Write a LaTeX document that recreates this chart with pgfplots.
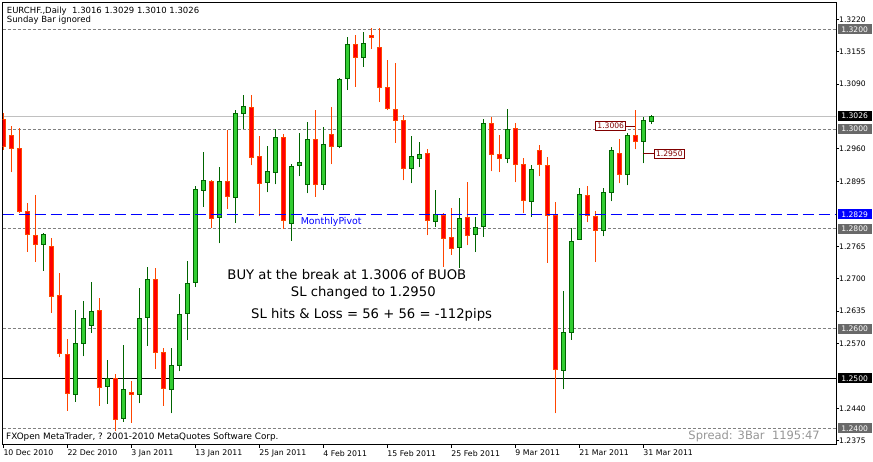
\documentclass[border=0pt]{standalone}
\usepackage{fontspec}
\setmainfont{DejaVu Sans}
\usepackage{pgfplots}
\usepackage{pgfplotstable}
\pgfplotsset{compat=1.18}

\definecolor{bullfill}{RGB}{50,205,50}
\definecolor{bullline}{RGB}{0,100,0}
\definecolor{bearfill}{RGB}{255,0,0}
\definecolor{bearline}{RGB}{255,69,0}
\definecolor{levelgray}{RGB}{128,128,128}
\definecolor{boxgray}{RGB}{105,105,105}
\definecolor{lastgray}{RGB}{192,192,192}
\definecolor{mtred}{RGB}{128,0,0}
\definecolor{spreadgray}{RGB}{150,150,150}

\newcommand\px[1]{\fontsize{#1}{#1}\selectfont}

\pgfplotsset{
  bullwick/.style={bullline, line width=1pt},
  bearwick/.style={bearline, line width=1pt},
  bullbody/.style={draw=bullline, fill=bullfill, line width=1pt},
  bearbody/.style={draw=bearline, fill=bearfill, line width=1pt},
}

% EURCHF daily, bar index, open high low close
\pgfplotstableread{
i O H L C
0 1.3020 1.3032 1.2958 1.2965
1 1.2987 1.3006 1.2913 1.2961
2 1.2961 1.3003 1.2831 1.2834
3 1.2835 1.2852 1.2754 1.2789
4 1.2787 1.2868 1.2734 1.2769
5 1.2769 1.2791 1.2716 1.2789
6 1.2765 1.2781 1.2632 1.2665
7 1.2667 1.2711 1.2542 1.2550
8 1.2548 1.2580 1.2435 1.2470
9 1.2468 1.2637 1.2453 1.2570
10 1.2570 1.2655 1.2544 1.2620
11 1.2606 1.2693 1.2592 1.2634
12 1.2637 1.2661 1.2445 1.2481
13 1.2483 1.2537 1.2449 1.2500
14 1.2500 1.2509 1.2395 1.2418
15 1.2420 1.2567 1.2413 1.2477
16 1.2472 1.2494 1.2411 1.2468
17 1.2468 1.2682 1.2450 1.2620
18 1.2622 1.2724 1.2566 1.2699
19 1.2699 1.2722 1.2519 1.2552
20 1.2552 1.2560 1.2445 1.2480
21 1.2478 1.2560 1.2430 1.2526
22 1.2526 1.2669 1.2514 1.2629
23 1.2631 1.2735 1.2577 1.2691
24 1.2692 1.2886 1.2683 1.2879
25 1.2877 1.2953 1.2844 1.2897
26 1.2895 1.2898 1.2802 1.2821
27 1.2823 1.2923 1.2771 1.2895
28 1.2895 1.2999 1.2840 1.2865
29 1.2863 1.3038 1.2812 1.3032
30 1.3032 1.3068 1.3001 1.3046
31 1.3044 1.3068 1.2927 1.2943
32 1.2945 1.2987 1.2825 1.2891
33 1.2893 1.2967 1.2873 1.2915
34 1.2913 1.3001 1.2889 1.2983
35 1.2983 1.2991 1.2800 1.2816
36 1.2811 1.2930 1.2776 1.2925
37 1.2927 1.2993 1.2905 1.2933
38 1.2889 1.3014 1.2871 1.2979
39 1.2979 1.3038 1.2864 1.2889
40 1.2889 1.3005 1.2878 1.2969
41 1.2989 1.3044 1.2929 1.2965
42 1.2965 1.3102 1.2961 1.3100
43 1.3102 1.3184 1.3078 1.3170
44 1.3170 1.3189 1.3085 1.3144
45 1.3144 1.3194 1.3125 1.3172
46 1.3188 1.3202 1.3160 1.3184
47 1.3164 1.3202 1.3054 1.3084
48 1.3084 1.3138 1.3038 1.3042
49 1.3040 1.3132 1.2973 1.3017
50 1.3017 1.3028 1.2897 1.2921
51 1.2921 1.2987 1.2891 1.2945
52 1.2941 1.2975 1.2923 1.2949
53 1.2951 1.2959 1.2787 1.2817
54 1.2815 1.2877 1.2804 1.2829
55 1.2827 1.2831 1.2724 1.2781
56 1.2783 1.2841 1.2748 1.2761
57 1.2763 1.2861 1.2722 1.2821
58 1.2823 1.2893 1.2767 1.2787
59 1.2789 1.2823 1.2753 1.2803
60 1.2805 1.3021 1.2784 1.3011
61 1.3011 1.3024 1.2915 1.2949
62 1.2949 1.2989 1.2913 1.2941
63 1.2941 1.3040 1.2931 1.2999
64 1.3001 1.3012 1.2893 1.2929
65 1.2929 1.2941 1.2831 1.2857
66 1.2855 1.2927 1.2824 1.2919
67 1.2957 1.2969 1.2905 1.2929
68 1.2927 1.2943 1.2732 1.2827
69 1.2827 1.2853 1.2430 1.2517
70 1.2515 1.2675 1.2478 1.2592
71 1.2592 1.2801 1.2578 1.2775
72 1.2779 1.2881 1.2778 1.2869
73 1.2867 1.2885 1.2813 1.2827
74 1.2825 1.2835 1.2733 1.2797
75 1.2797 1.2881 1.2785 1.2873
76 1.2873 1.2963 1.2855 1.2957
77 1.2951 1.2981 1.2891 1.2909
78 1.2909 1.2993 1.2887 1.2987
79 1.2987 1.3039 1.2959 1.2975
80 1.2975 1.3024 1.2931 1.3017
81 1.3016 1.3029 1.3010 1.3026
}\candles

\begin{document}
\begin{tikzpicture}[x=1pt,y=1pt]
\path[use as bounding box] (0,0) rectangle (873,462);
\begin{axis}[
  at={(2.5pt,17pt)}, anchor=south west,
  scale only axis, width=833.5pt, height=442.5pt,
  xmin=-0.1, xmax=104.09, ymin=1.236652, ymax=1.325373,
  clip mode=individual,
  axis line style={line width=1pt},
  tick style={black, line width=1pt},
  tick align=outside, major tick length=3pt,
  xtick pos=bottom, ytick pos=right, yticklabel pos=right,
  xtick={0,8,...,80},
  xticklabels={10 Dec 2010, 22 Dec 2010, 3 Jan 2011, 13 Jan 2011, 25 Jan 2011,
    4 Feb 2011, 15 Feb 2011, 25 Feb 2011, 9 Mar 2011, 21 Mar 2011, 31 Mar 2011},
  xticklabel style={font=\px{7.8}, anchor=north west, inner sep=0pt, yshift=-2pt},
  ytick={1.2375,1.2440,1.2570,1.2635,1.2700,1.2765,1.2895,1.2960,1.3090,1.3155,1.3220},
  yticklabel style={font=\px{7.6}, anchor=west, inner sep=0pt,
    /pgf/number format/.cd, fixed, fixed zerofill, precision=4, assume math mode=true},
]
% round levels
\pgfplotsinvokeforeach{1.32,1.30,1.28,1.26,1.24}{
  \addplot[levelgray, line width=1pt, dash pattern=on 3pt off 2pt]
    coordinates {(-0.1,#1) (104.09,#1)};
}
\addplot[black, line width=1pt] coordinates {(-0.1,1.25) (104.09,1.25)};
\addplot[lastgray, line width=1pt] coordinates {(-0.1,1.3026) (104.09,1.3026)};

% candles
\pgfplotsinvokeforeach{0,...,81}{
  \pgfplotstablegetelem{#1}{O}\of\candles\let\vo\pgfplotsretval
  \pgfplotstablegetelem{#1}{H}\of\candles\let\vh\pgfplotsretval
  \pgfplotstablegetelem{#1}{L}\of\candles\let\vl\pgfplotsretval
  \pgfplotstablegetelem{#1}{C}\of\candles\let\vc\pgfplotsretval
  \ifdim\vc pt<\vo pt \def\kind{bear}\else\def\kind{bull}\fi
  \pgfmathsetmacro\xa{#1-0.25}
  \pgfmathsetmacro\xb{#1+0.25}
  \edef\doit{%
    \noexpand\addplot[\kind wick] coordinates {(#1,\vl) (#1,\vh)};
    \noexpand\addplot[\kind body] coordinates {(\xa,\vo) (\xb,\vo) (\xb,\vc) (\xa,\vc)} -- cycle;
  }\doit
}

% monthly pivot
\addplot[blue, line width=1pt, dash pattern=on 11pt off 5pt]
  coordinates {(-0.1,1.2829) (104.09,1.2829)};
\node[blue, font=\px{9.4}, anchor=base west, inner sep=0pt] at (axis cs:37.17,1.28096) {MonthlyPivot};

% price markers
\addplot[mtred, line width=1pt] coordinates {(77.84,1.3006) (78.96,1.3006)};
\addplot[mtred, line width=1pt] coordinates {(79.96,1.2950) (81.34,1.2950)};
\node[draw=mtred, fill=white, text=mtred, font=\px{7.6}, line width=1pt,
  inner xsep=1.5pt, inner ysep=1.2pt, anchor=east] at (axis cs:77.84,1.3006) {1.3006};
\node[draw=mtred, fill=white, text=mtred, font=\px{7.6}, line width=1pt,
  inner xsep=1.5pt, inner ysep=1.2pt, anchor=west] at (axis cs:81.34,1.2950) {1.2950};

% right hand price boxes
\pgfplotsinvokeforeach{1.3200,1.3000,1.2800,1.2600,1.2400}{
  \node[fill=boxgray, text=white, font=\px{7.6}, anchor=west, inner sep=0pt,
    minimum width=34pt, minimum height=10pt, xshift=1.5pt] at (axis cs:104.09,#1) {#1};
}
\node[fill=black, text=white, font=\px{7.6}, anchor=west, inner sep=0pt,
  minimum width=34pt, minimum height=10pt, xshift=1.5pt] at (axis cs:104.09,1.3026) {1.3026};
\node[fill=black, text=white, font=\px{7.6}, anchor=west, inner sep=0pt,
  minimum width=34pt, minimum height=10pt, xshift=1.5pt] at (axis cs:104.09,1.2500) {1.2500};
\node[fill=blue, text=white, font=\px{7.6}, anchor=west, inner sep=0pt,
  minimum width=34pt, minimum height=10pt, xshift=1.5pt] at (axis cs:104.09,1.2829) {1.2829};

% chart texts
\node[font=\px{8.5}, anchor=base west, inner sep=0pt] at (axis cs:0.425,1.32307)
  {EURCHF.,Daily\ \ 1.3016 1.3029 1.3010 1.3026};
\node[font=\px{8.5}, anchor=base west, inner sep=0pt] at (axis cs:0.425,1.32146)
  {Sunday Bar ignored};
\node[font=\px{8.8}, anchor=base west, inner sep=0pt] at (axis cs:0.34,1.23785)
  {FXOpen MetaTrader, ? 2001-2010 MetaQuotes Software Corp.};
\node[spreadgray, font=\px{11.5}, anchor=base east, inner sep=0pt] at (axis cs:102.09,1.23785)
  {Spread: 3Bar\ \ 1195:47};
\node[font=\px{13.2}, anchor=base west, inner sep=0pt] at (axis cs:28.0,1.26987)
  {BUY at the break at 1.3006 of BUOB};
\node[font=\px{13.2}, anchor=base west, inner sep=0pt] at (axis cs:35.93,1.26633)
  {SL changed to 1.2950};
\node[font=\px{13.2}, anchor=base west, inner sep=0pt] at (axis cs:30.96,1.26211)
  {SL hits \& Loss = 56 + 56 = -112pips};
\end{axis}
\end{tikzpicture}
\end{document}
